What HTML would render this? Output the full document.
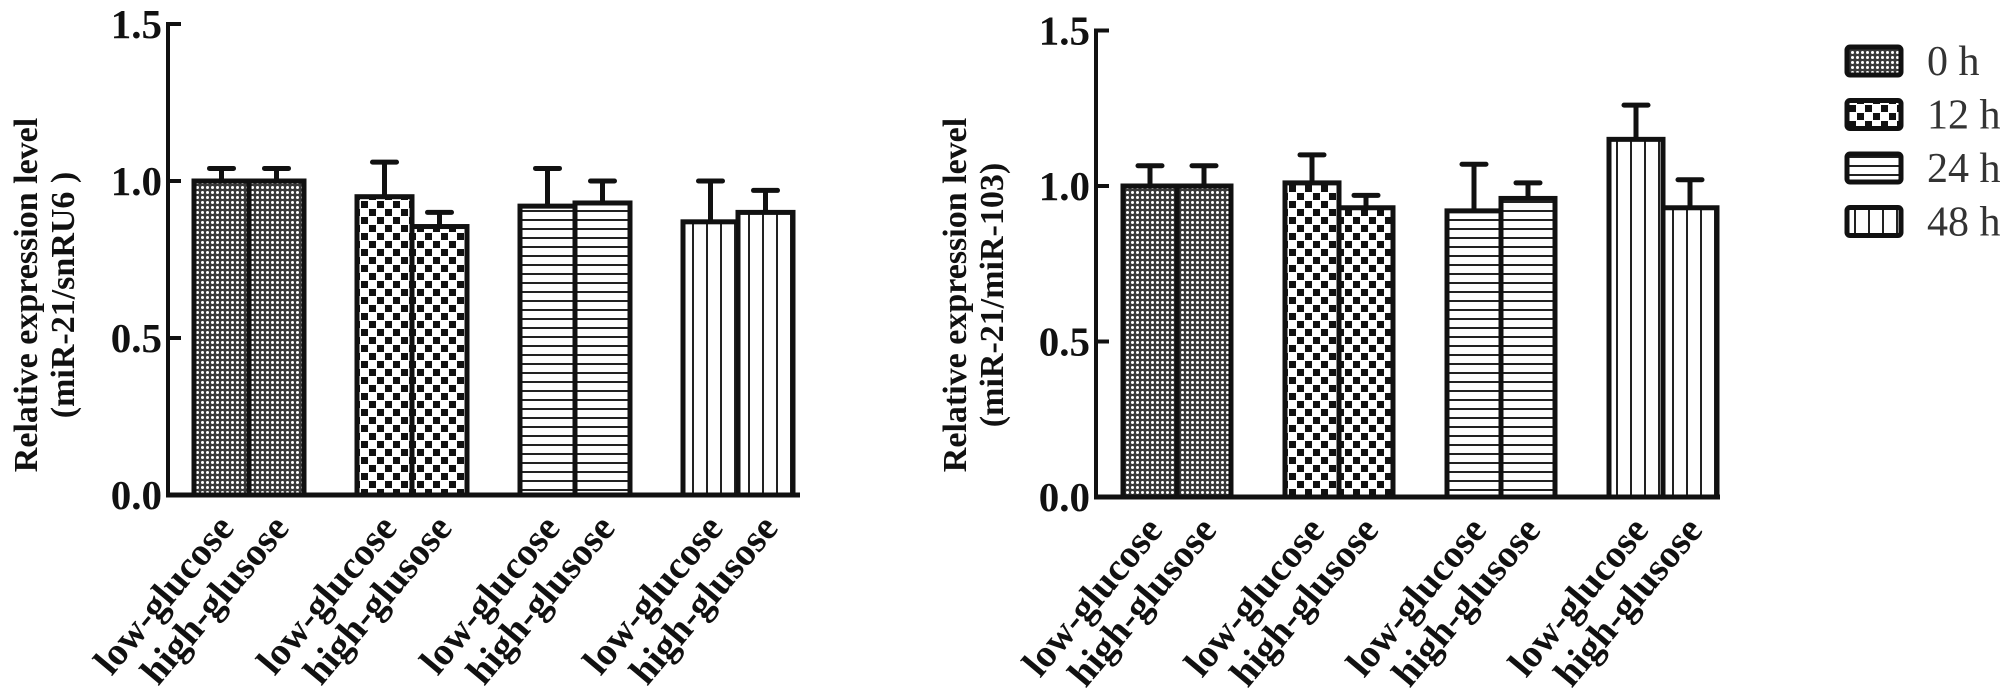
<!DOCTYPE html>
<html><head><meta charset="utf-8"><style>
html,body{margin:0;padding:0;background:#fff;}
svg{display:block;}
text{font-family:"Liberation Serif",serif;}
</style></head><body>
<svg id="chart" width="2008" height="691" viewBox="0 0 2008 691" xmlns="http://www.w3.org/2000/svg">
<defs>
<pattern id="p0" width="5" height="5" patternUnits="userSpaceOnUse"><rect width="5" height="5" fill="#3a3a3a"/><circle cx="2.5" cy="2.5" r="1.5" fill="#fff"/></pattern>
<pattern id="p1" width="16" height="16" patternUnits="userSpaceOnUse"><rect width="16" height="16" fill="#fff"/><rect x="1" y="1" width="7" height="7" fill="#111"/><rect x="9" y="9" width="7" height="7" fill="#111"/></pattern>
<pattern id="p2" width="9" height="9" patternUnits="userSpaceOnUse"><rect width="9" height="9" fill="#fff"/><rect y="3" width="9" height="2" fill="#222"/></pattern>
<pattern id="p3" width="14" height="14" patternUnits="userSpaceOnUse"><rect width="14" height="14" fill="#fff"/><rect x="6" width="2" height="14" fill="#222"/></pattern>
</defs>
<g id="left"></g>
<g id="right"></g>
<g id="legend"></g>
</svg>
<script>
const categories = ["0 h","12 h","24 h","48 h"];
const groups = ["low-glucose","high-glusose"];
const leftLow = [1.00,0.95,0.92,0.87];
const leftLowErr = [0.04,0.11,0.12,0.13];
const leftHigh = [1.00,0.855,0.93,0.90];
const leftHighErr = [0.04,0.045,0.07,0.07];
const rightLow = [1.00,1.01,0.92,1.15];
const rightLowErr = [0.065,0.09,0.15,0.11];
const rightHigh = [1.00,0.93,0.96,0.93];
const rightHighErr = [0.065,0.04,0.05,0.09];
const yTicks = [0.0,0.5,1.0,1.5];
const yTickLabels = ["0.0","0.5","1.0","1.5"];

const NS="http://www.w3.org/2000/svg";
function mk(tag, attrs, parent){const e=document.createElementNS(NS,tag);for(const k in attrs)e.setAttribute(k,attrs[k]);parent.appendChild(e);return e;}

function drawChart(g, cfg, low, lowErr, high, highErr, prefix){
  const y = v => cfg.y0 - v*cfg.ppu;
  const barW = cfg.barW;
  for(let i=0;i<categories.length;i++){
    const gx = cfg.x0 + i*cfg.gap;
    const sets=[[low[i],lowErr[i],gx],[high[i],highErr[i],gx+barW]];
    sets.forEach((s,j)=>{
      const [v,e,bx]=s;
      const cx=bx+barW/2;
      const eb=mk('line',{x1:cx,x2:cx,y1:y(v),y2:y(v+e),stroke:'#111','stroke-width':5},g);
      
      
      const cap=mk('line',{x1:cx-12,x2:cx+12,y1:y(v+e),y2:y(v+e),stroke:'#111','stroke-width':5,'stroke-linecap':'round'},g);
      
      
      const r=mk('rect',{x:bx,y:y(v),width:barW,height:cfg.y0-y(v),fill:'url(#p'+i+')',stroke:'#111','stroke-width':5},g);
      
      
      const t=mk('text',{x:0,y:0,'font-size':39,'font-weight':'bold','text-anchor':'end',fill:'#111',transform:`translate(${cx+14},${cfg.y0+34}) rotate(-50)`},g);
      t.textContent=groups[j];
      
      
    });
  }
  const ya=mk('line',{x1:cfg.ax,x2:cfg.ax,y1:y(1.5)-2,y2:cfg.y0,stroke:'#111','stroke-width':4},g);
  
  
  const xa=mk('line',{x1:cfg.ax-2,x2:cfg.xEnd,y1:cfg.y0,y2:cfg.y0,stroke:'#111','stroke-width':5},g);
  
  
  yTicks.forEach((v,k)=>{
    const tk=mk('line',{x1:cfg.ax,x2:cfg.ax+13,y1:y(v),y2:y(v),stroke:'#111','stroke-width':4},g);
    
    
    const tl=mk('text',{x:cfg.ax-6,y:y(v)+14,'font-size':41,'font-weight':'bold','text-anchor':'end',fill:'#111'},g);
    tl.textContent=yTickLabels[k];
    
    
  });
  const t1=mk('text',{x:0,y:0,'font-size':34,'font-weight':'bold','text-anchor':'middle',fill:'#111',transform:`translate(${cfg.titleX},${cfg.titleY}) rotate(-90)`},g);
  t1.textContent="Relative expression level";
  
  
  const t2=mk('text',{x:0,y:0,'font-size':34,'font-weight':'bold','text-anchor':'middle',fill:'#111',transform:`translate(${cfg.titleX+37},${cfg.titleY}) rotate(-90)`},g);
  t2.textContent=cfg.sub;
  
  
}
drawChart(document.getElementById('left'),{x0:194,gap:163,barW:55,y0:495,ppu:314,ax:168,xEnd:800,titleX:37,titleY:295,sub:"(miR-21/snRU6 )"},leftLow,leftLowErr,leftHigh,leftHighErr,'left');
drawChart(document.getElementById('right'),{x0:1123,gap:162,barW:54,y0:497,ppu:311,ax:1096,xEnd:1720,titleX:966,titleY:295,sub:"(miR-21/miR-103)"},rightLow,rightLowErr,rightHigh,rightHighErr,'right');

const lg=document.getElementById('legend');
categories.forEach((c,i)=>{
  const cy=61+i*53.5;
  const r=mk('rect',{x:1847,y:cy-14,width:54,height:28,rx:3,fill:'url(#p'+i+')',stroke:'#111','stroke-width':5},lg);
  
  
  const t=mk('text',{x:1927,y:cy+14,'font-size':42,fill:'#333'},lg);
  t.textContent=c;
  
  
});
</script>
</body></html>
